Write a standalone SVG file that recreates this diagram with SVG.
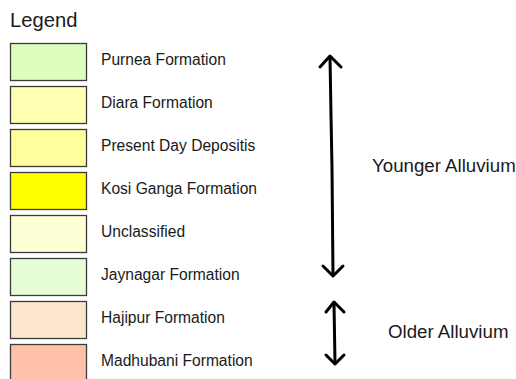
<svg xmlns="http://www.w3.org/2000/svg" width="516" height="379" viewBox="0 0 516 379">
<style>
.sw{stroke:#3a3a3a;stroke-width:1.3}
.lbl{font-family:"Liberation Sans",Arial,sans-serif;font-size:15.6px;fill:#1a1a1a}
.big{font-family:"Liberation Sans",Arial,sans-serif;font-size:18.7px;fill:#1a1a1a}
.arr{stroke:#000;stroke-width:3;fill:none;stroke-linecap:round;stroke-linejoin:round}
</style>
<rect width="516" height="379" fill="#ffffff"/>
<text class="big" x="10" y="27" style="font-size:20.2px">Legend</text>
<g id="purnea"><rect class="sw" x="10.5" y="43.5" width="76" height="37" fill="#dcffc0"/><text class="lbl" x="101" y="65">Purnea Formation</text></g>
<g id="diara"><rect class="sw" x="10.5" y="86.5" width="76" height="37" fill="#ffffb2"/><text class="lbl" x="101" y="108">Diara Formation</text></g>
<g id="present"><rect class="sw" x="10.5" y="129.5" width="76" height="37" fill="#ffff9c"/><text class="lbl" x="101" y="151">Present Day Depositis</text></g>
<g id="kosi"><rect class="sw" x="10.5" y="172.5" width="76" height="37" fill="#ffff00"/><text class="lbl" x="101" y="194">Kosi Ganga Formation</text></g>
<g id="unclassified"><rect class="sw" x="10.5" y="215.5" width="76" height="37" fill="#ffffd6"/><text class="lbl" x="101" y="237">Unclassified</text></g>
<g id="jaynagar"><rect class="sw" x="10.5" y="258.5" width="76" height="37" fill="#e6fcd6"/><text class="lbl" x="101" y="280">Jaynagar Formation</text></g>
<g id="hajipur"><rect class="sw" x="10.5" y="301.5" width="76" height="37" fill="#fde6d0"/><text class="lbl" x="101" y="323">Hajipur Formation</text></g>
<g id="madhubani"><rect class="sw" x="10.5" y="344.5" width="76" height="40" fill="#ffc1aa"/><text class="lbl" x="101" y="366">Madhubani Formation</text></g>
<g id="connectors">
<path class="arr" d="M330,57 L331,115 L332,168 L333,275"/>
<path class="arr" d="M320,67 L330,56 L341,67"/>
<path class="arr" d="M323,266 L333,276 L343,266"/>
<path class="arr" d="M334,303 L335,363"/>
<path class="arr" d="M326,312 L334,302 L344,312"/>
<path class="arr" d="M326,355 L335,364 L344,355"/>
</g>
<text class="big" x="372" y="172">Younger Alluvium</text>
<text class="big" x="388" y="338">Older Alluvium</text>
</svg>
